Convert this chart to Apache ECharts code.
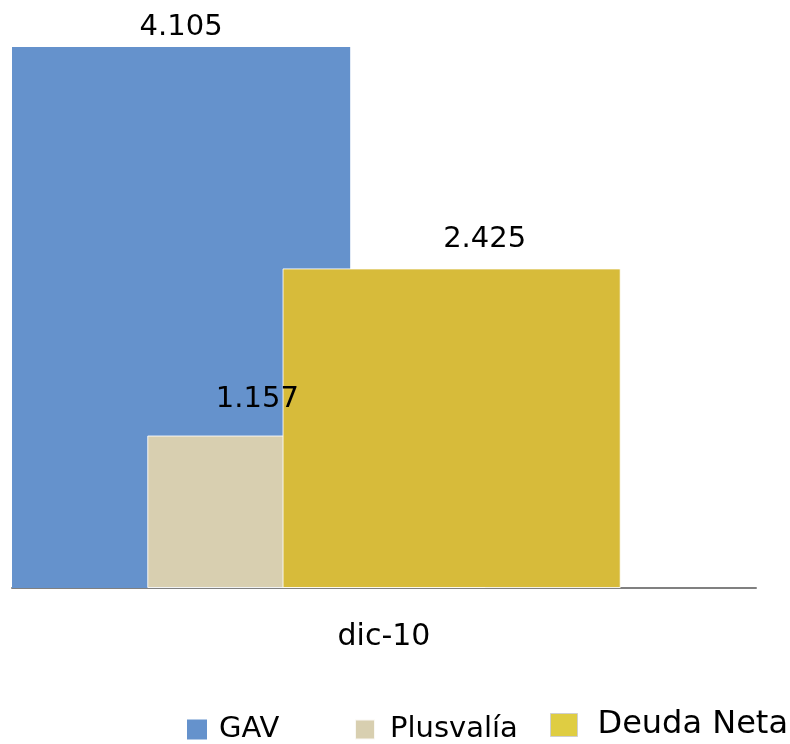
<!DOCTYPE html>
<html>
<head>
<meta charset="utf-8">
<script src="https://cdn.jsdelivr.net/npm/echarts@6/dist/echarts.min.js"></script>
<style>
  html, body { margin: 0; padding: 0; background: #fff; }
  #chart { width: 790px; height: 744px; }
</style>
</head>
<body>
<div id="chart"></div>
<script>
// categorias y valores (dic-10)
var categories = ['dic-10'];
var gav = [4.105];
var plusvalia = [1.157];
var deudaNeta = [2.425];

var FONT = 'DejaVu Sans';

var myChart = echarts.init(document.getElementById('chart'));

function labelCfg(offset) {
  return {
    show: true,
    position: 'top',
    distance: 5,
    offset: offset,
    color: '#000',
    fontFamily: FONT,
    fontSize: 29,
    formatter: function (p) {
      return p.value.toFixed(3);
    },
  };
}

var barBorder = { borderColor: 'rgba(255,255,255,0.85)', borderWidth: 1 };

myChart.setOption({
  animation: false,
  grid: {
    left: 12,
    right: 34,
    top: 47,
    bottom: 156,
  },
  xAxis: {
    type: 'category',
    data: categories,
    axisLine: { lineStyle: { color: '#808080', width: 2 } },
    axisTick: { show: false },
    axisLabel: {
      color: '#000',
      fontFamily: FONT,
      fontSize: 30,
      margin: 34,
    },
  },
  yAxis: {
    type: 'value',
    min: 0,
    max: 4.105,
    show: false,
    splitLine: { show: false },
  },
  legend: [
    {
      data: [{ name: 'GAV' }],
      left: 182,
      top: 710,
      icon: 'rect',
      itemWidth: 20,
      itemHeight: 20,
      textStyle: { fontFamily: FONT, fontSize: 29, color: '#000', padding: [0, 0, 0, 7] },
    },
    {
      data: [{ name: 'Plusvalía' }],
      left: 349,
      top: 710,
      icon: 'rect',
      itemWidth: 20,
      itemHeight: 20,
      textStyle: { fontFamily: FONT, fontSize: 29, color: '#000', padding: [0, 0, 0, 10] },
    },
    {
      data: [{ name: 'Deuda Neta', itemStyle: { color: '#DFCD42', borderColor: '#cfcfcf', borderWidth: 1 } }],
      left: 545,
      top: 704,
      icon: 'rect',
      itemWidth: 27,
      itemHeight: 23,
      textStyle: { fontFamily: FONT, fontSize: 32, color: '#000', padding: [0, 0, 0, 15] },
    },
  ],
  series: [
    {
      name: 'GAV',
      type: 'bar',
      barGap: '-60%',
      barCategoryGap: '0%',
      itemStyle: { color: '#6592CC' },
      label: labelCfg([0, 0]),
      data: gav,
    },
    {
      name: 'Plusvalía',
      type: 'bar',
      barGap: '-60%',
      barCategoryGap: '0%',
      itemStyle: Object.assign({ color: '#D8CFB0' }, barBorder),
      label: labelCfg([-59, -17]),
      data: plusvalia,
    },
    {
      name: 'Deuda Neta',
      type: 'bar',
      barGap: '-60%',
      barCategoryGap: '0%',
      itemStyle: Object.assign({ color: '#D7BB3A' }, barBorder),
      label: labelCfg([33, -9]),
      data: deudaNeta,
    },
    {
      // hueco vacio: en el original el grupo no esta centrado en la categoria
      name: '',
      type: 'bar',
      barGap: '-60%',
      barCategoryGap: '0%',
      silent: true,
      data: [null],
    },
  ],
});
</script>
</body>
</html>
